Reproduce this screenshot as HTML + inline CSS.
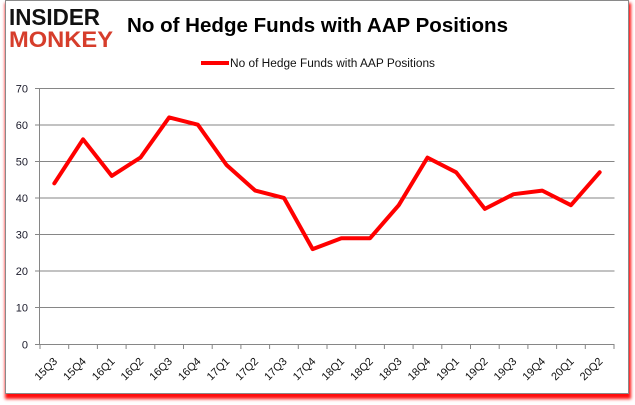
<!DOCTYPE html>
<html><head><meta charset="utf-8"><style>
html,body{margin:0;padding:0;background:#fff;width:635px;height:405px;overflow:hidden}
#frame{position:absolute;left:5px;top:0px;width:622px;height:392px;border:1px solid #8a8a8a;background:#fff;box-shadow:1px 4px 3px 1px rgba(255,0,0,0.95)}
svg{position:absolute;left:0;top:0}
</style></head><body>
<div id="frame"></div>
<svg width="635" height="405" viewBox="0 0 635 405" xmlns="http://www.w3.org/2000/svg">
<g font-family="Liberation Sans, sans-serif">
<text x="9" y="25" font-size="23" font-weight="bold" fill="#111" textLength="91" lengthAdjust="spacingAndGlyphs">INSIDER</text>
<text x="9" y="47" font-size="22" font-weight="bold" fill="#d63d2b" textLength="104" lengthAdjust="spacingAndGlyphs">MONKEY</text>
<text x="127" y="32" font-size="20" font-weight="bold" fill="#000" textLength="381" lengthAdjust="spacingAndGlyphs">No of Hedge Funds with AAP Positions</text>
<line x1="201" y1="63" x2="229" y2="63" stroke="#ff0000" stroke-width="4"/>
<text x="230" y="67" font-size="11.5" fill="#111" textLength="205" lengthAdjust="spacingAndGlyphs">No of Hedge Funds with AAP Positions</text>
</g>
<g stroke="#868686" stroke-width="1">
<line x1="40" y1="88.5" x2="614.5" y2="88.5"/>
<line x1="40" y1="125" x2="614.5" y2="125"/>
<line x1="40" y1="161.5" x2="614.5" y2="161.5"/>
<line x1="40" y1="198" x2="614.5" y2="198"/>
<line x1="40" y1="234.5" x2="614.5" y2="234.5"/>
<line x1="40" y1="271" x2="614.5" y2="271"/>
<line x1="40" y1="307.5" x2="614.5" y2="307.5"/>
<line x1="35" y1="344.5" x2="614.5" y2="344.5"/>
<line x1="39.5" y1="88" x2="39.5" y2="345"/>
<line x1="35" y1="88.5" x2="40" y2="88.5"/>
<line x1="35" y1="125" x2="40" y2="125"/>
<line x1="35" y1="161.5" x2="40" y2="161.5"/>
<line x1="35" y1="198" x2="40" y2="198"/>
<line x1="35" y1="234.5" x2="40" y2="234.5"/>
<line x1="35" y1="271" x2="40" y2="271"/>
<line x1="35" y1="307.5" x2="40" y2="307.5"/>
<path d="M40 344v5M68.7 344v5M97.4 344v5M126.1 344v5M154.8 344v5M183.5 344v5M212.2 344v5M240.9 344v5M269.6 344v5M298.3 344v5M327 344v5M355.7 344v5M384.4 344v5M413.1 344v5M441.8 344v5M470.5 344v5M499.2 344v5M527.9 344v5M556.6 344v5M585.3 344v5M614 344v5"/>
</g>
<g font-family="Liberation Sans, sans-serif" font-size="11" fill="#1a1a2a" text-anchor="end">
<text x="28" y="92.5">70</text>
<text x="28" y="129">60</text>
<text x="28" y="165.5">50</text>
<text x="28" y="202">40</text>
<text x="28" y="238.5">30</text>
<text x="28" y="275">20</text>
<text x="28" y="311.5">10</text>
<text x="28" y="348.5">0</text>
</g>
<g font-family="Liberation Sans, sans-serif" font-size="11" fill="#111" text-anchor="end">
<text transform="translate(58,362) rotate(-45)">15Q3</text>
<text transform="translate(86.7,362) rotate(-45)">15Q4</text>
<text transform="translate(115.4,362) rotate(-45)">16Q1</text>
<text transform="translate(144.1,362) rotate(-45)">16Q2</text>
<text transform="translate(172.8,362) rotate(-45)">16Q3</text>
<text transform="translate(201.5,362) rotate(-45)">16Q4</text>
<text transform="translate(230.2,362) rotate(-45)">17Q1</text>
<text transform="translate(258.9,362) rotate(-45)">17Q2</text>
<text transform="translate(287.6,362) rotate(-45)">17Q3</text>
<text transform="translate(316.3,362) rotate(-45)">17Q4</text>
<text transform="translate(345,362) rotate(-45)">18Q1</text>
<text transform="translate(373.7,362) rotate(-45)">18Q2</text>
<text transform="translate(402.4,362) rotate(-45)">18Q3</text>
<text transform="translate(431.1,362) rotate(-45)">18Q4</text>
<text transform="translate(459.8,362) rotate(-45)">19Q1</text>
<text transform="translate(488.5,362) rotate(-45)">19Q2</text>
<text transform="translate(517.2,362) rotate(-45)">19Q3</text>
<text transform="translate(545.9,362) rotate(-45)">19Q4</text>
<text transform="translate(574.6,362) rotate(-45)">20Q1</text>
<text transform="translate(603.3,362) rotate(-45)">20Q2</text>
</g>
<polyline fill="none" stroke="#ff0000" stroke-width="4" stroke-linejoin="round" stroke-linecap="round"
points="54.35,183.3 83.05,139.3 111.75,175.9 140.45,157.6 169.15,117.4 197.85,124.7 226.55,165 255.25,190.6 283.95,197.9 312.65,249.1 341.35,238.2 370.05,238.2 398.75,205.2 427.45,157.6 456.15,172.3 484.85,208.9 513.55,194.2 542.25,190.6 570.95,205.2 599.65,172.3"/>
</svg>
</body></html>
